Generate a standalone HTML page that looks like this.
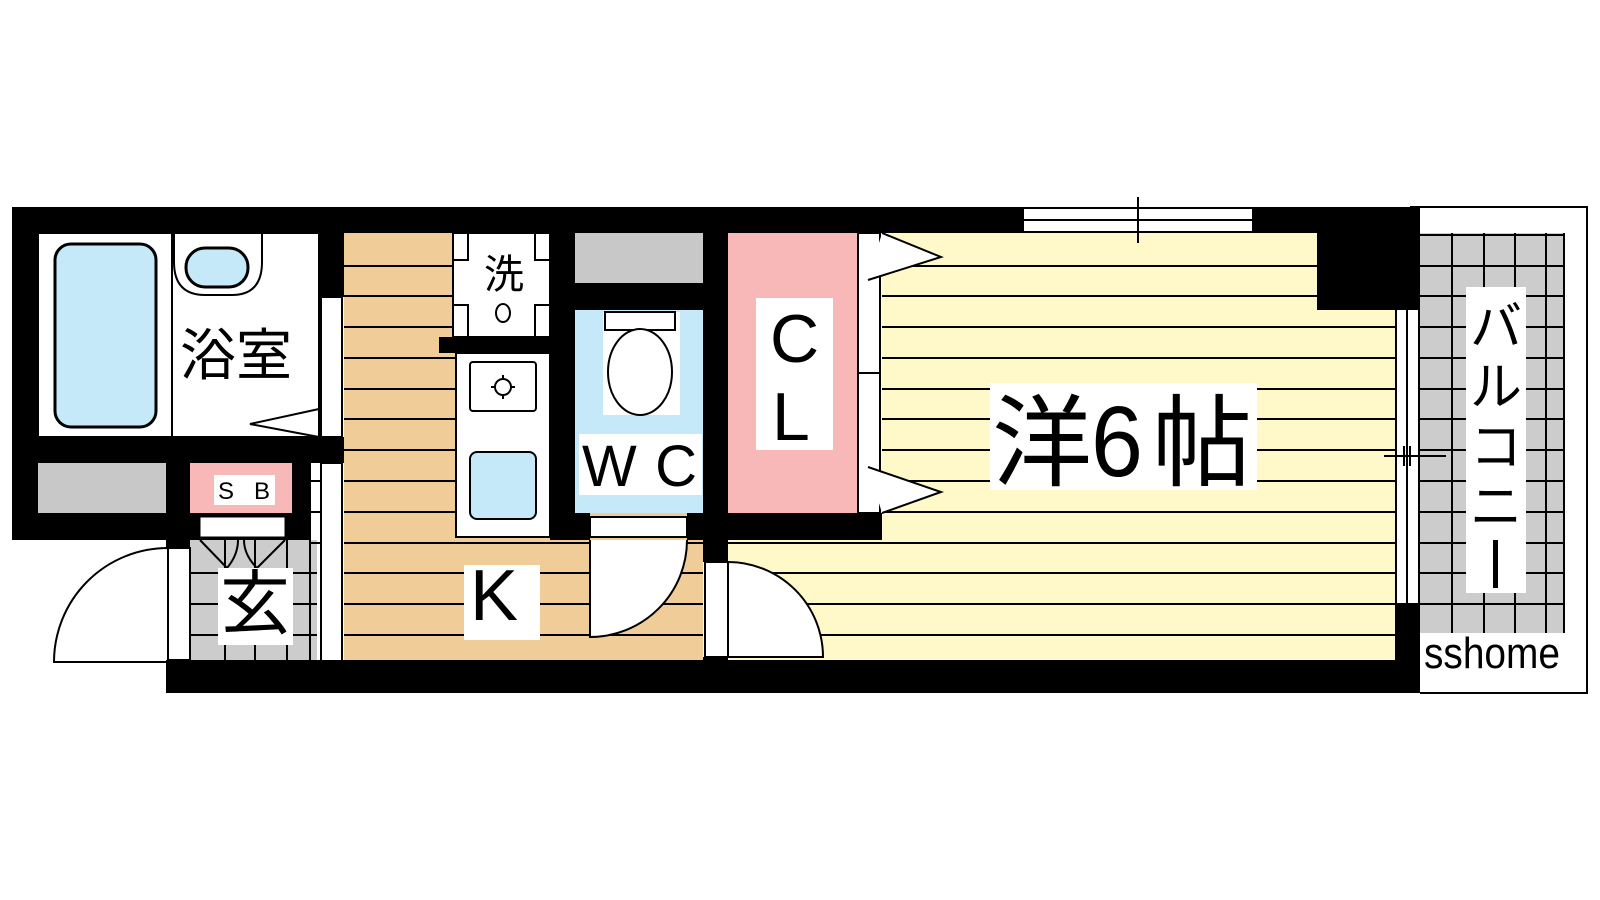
<!DOCTYPE html>
<html><head><meta charset="utf-8"><style>
html,body{margin:0;padding:0;background:#fff;}
svg{display:block}
text{font-family:"Liberation Sans","Noto Sans CJK JP",sans-serif;}
</style></head><body>
<svg width="1600" height="900" viewBox="0 0 1600 900" xmlns="http://www.w3.org/2000/svg">
<rect width="1600" height="900" fill="#fff"/>
<!-- balcony -->
<rect x="1420" y="233" width="144" height="400" fill="#cccccc"/>
<g stroke="#000" stroke-width="2">
<line x1="1452" y1="233" x2="1452" y2="633"/><line x1="1484" y1="233" x2="1484" y2="633"/>
<line x1="1515" y1="233" x2="1515" y2="633"/><line x1="1546" y1="233" x2="1546" y2="633"/>
<line x1="1420" y1="235" x2="1564" y2="235"/><line x1="1564" y1="233" x2="1564" y2="633"/>
</g>
<g stroke="#000" stroke-width="2" id="bgrid">
<line x1="1420" y1="266" x2="1564" y2="266"/><line x1="1420" y1="296" x2="1564" y2="296"/>
<line x1="1420" y1="327" x2="1564" y2="327"/><line x1="1420" y1="358" x2="1564" y2="358"/>
<line x1="1420" y1="389" x2="1564" y2="389"/><line x1="1420" y1="419" x2="1564" y2="419"/>
<line x1="1420" y1="450" x2="1564" y2="450"/><line x1="1420" y1="481" x2="1564" y2="481"/>
<line x1="1420" y1="512" x2="1564" y2="512"/><line x1="1420" y1="543" x2="1564" y2="543"/>
<line x1="1420" y1="573" x2="1564" y2="573"/><line x1="1420" y1="604" x2="1564" y2="604"/>
</g>
<polyline points="1410,207 1587,207 1587,693 1420,693" fill="none" stroke="#000" stroke-width="2"/>
<rect x="1466" y="287" width="60" height="306" fill="#fff"/>
<text font-size="52" text-anchor="middle" x="1496" y="345">バ</text>
<text font-size="52" text-anchor="middle" x="1496" y="405">ル</text>
<text font-size="52" text-anchor="middle" x="1496" y="465">コ</text>
<text font-size="52" text-anchor="middle" x="1496" y="525">ニ</text>
<rect x="1493" y="540" width="5" height="48" fill="#000"/>
<rect x="1420" y="633" width="146" height="39" fill="#fff"/>
<text font-size="44" x="1424" y="668" textLength="136" lengthAdjust="spacingAndGlyphs">sshome</text>

<!-- bath -->
<rect x="38" y="233" width="281" height="204" fill="#fff" stroke="#000" stroke-width="2"/>
<rect x="55" y="244" width="101" height="183" rx="16" fill="#c5e9f9" stroke="#000" stroke-width="3"/>
<line x1="172" y1="233" x2="172" y2="437" stroke="#000" stroke-width="2"/>
<path d="M174 233 L174 262 Q174 295 205 295 L232 295 Q262 295 262 262 L262 233" fill="none" stroke="#000" stroke-width="2"/>
<rect x="186" y="248" width="62" height="39" rx="19" fill="#c5e9f9" stroke="#000" stroke-width="3"/>
<text font-size="56" x="180" y="375">浴室</text>
<polygon points="319,409 250,424 319,437" fill="#fff" stroke="#000" stroke-width="2"/>

<!-- kitchen floor -->
<rect x="344" y="233" width="359" height="434" fill="#f0cd98"/>
<g stroke="#000" stroke-width="2">
<line x1="344" y1="266" x2="453" y2="266"/><line x1="344" y1="296" x2="453" y2="296"/>
<line x1="344" y1="327" x2="453" y2="327"/><line x1="344" y1="358" x2="456" y2="358"/>
<line x1="344" y1="389" x2="456" y2="389"/><line x1="344" y1="419" x2="456" y2="419"/>
<line x1="344" y1="450" x2="456" y2="450"/><line x1="344" y1="481" x2="456" y2="481"/>
<line x1="344" y1="512" x2="456" y2="512"/><line x1="344" y1="543" x2="703" y2="543"/>
<line x1="344" y1="573" x2="703" y2="573"/><line x1="344" y1="604" x2="703" y2="604"/>
<line x1="344" y1="635" x2="703" y2="635"/><line x1="344" y1="665" x2="703" y2="665"/>
</g>
<!-- laundry -->
<rect x="453" y="233" width="97" height="104" fill="#fff" stroke="#000" stroke-width="2"/>
<g stroke="#000" stroke-width="2" fill="none">
<path d="M468 233 V260 H453"/><path d="M535 233 V260 H550"/>
<path d="M468 337 V305 H453"/><path d="M535 337 V305 H550"/>
</g>
<text font-size="40" x="484" y="288">洗</text>
<ellipse cx="503" cy="313" rx="7" ry="9" fill="#fff" stroke="#000" stroke-width="2"/>
<rect x="439" y="337" width="111" height="16" fill="#000"/>
<!-- counter -->
<rect x="456" y="353" width="94" height="184" fill="#fff" stroke="#000" stroke-width="2"/>
<rect x="470" y="362" width="66" height="49" rx="3" fill="#fff" stroke="#000" stroke-width="2"/>
<circle cx="503" cy="387" r="8" fill="none" stroke="#000" stroke-width="2"/>
<g stroke="#000" stroke-width="2"><line x1="503" y1="375" x2="503" y2="379"/><line x1="503" y1="395" x2="503" y2="399"/><line x1="491" y1="387" x2="495" y2="387"/><line x1="511" y1="387" x2="515" y2="387"/></g>
<rect x="470" y="452" width="66" height="67" rx="7" fill="#c5e9f9" stroke="#000" stroke-width="2"/>

<!-- WC -->
<rect x="575" y="233" width="128" height="50" fill="#c8c8c8"/>
<rect x="575" y="310" width="128" height="203" fill="#c5e9f9"/>
<rect x="603" y="312" width="77" height="103" fill="#fff"/>
<rect x="605" y="312" width="70" height="18" fill="#fff" stroke="#000" stroke-width="2"/>
<ellipse cx="640" cy="372" rx="32" ry="43" fill="#fff" stroke="#000" stroke-width="2"/>
<rect x="579" y="434" width="123" height="61" fill="#fff"/>
<text font-size="58" x="582" y="486" textLength="115" lengthAdjust="spacing">WC</text>

<!-- room floor -->
<rect x="882" y="233" width="513" height="434" fill="#fff8c8"/>
<rect x="728" y="540" width="667" height="127" fill="#fff8c8"/>
<g stroke="#000" stroke-width="2">
<line x1="882" y1="266" x2="1317" y2="266"/><line x1="882" y1="296" x2="1317" y2="296"/>
<line x1="882" y1="327" x2="1395" y2="327"/><line x1="882" y1="358" x2="1395" y2="358"/>
<line x1="882" y1="389" x2="1395" y2="389"/><line x1="882" y1="419" x2="1395" y2="419"/>
<line x1="882" y1="450" x2="1395" y2="450"/><line x1="882" y1="481" x2="1395" y2="481"/>
<line x1="882" y1="512" x2="1395" y2="512"/><line x1="728" y1="543" x2="1395" y2="543"/>
<line x1="728" y1="573" x2="1395" y2="573"/><line x1="728" y1="604" x2="1395" y2="604"/>
<line x1="728" y1="635" x2="1395" y2="635"/><line x1="728" y1="665" x2="1395" y2="665"/>
</g>
<rect x="990" y="383" width="267" height="107" fill="#fff"/>
<text font-size="100" x="992" y="478">洋</text>
<text font-size="100" x="1091" y="476" textLength="52" lengthAdjust="spacingAndGlyphs">6</text>
<text font-size="100" x="1152" y="478">帖</text>
<!-- CL -->
<rect x="728" y="233" width="130" height="280" fill="#f8b8b8"/>
<rect x="756" y="298" width="77" height="152" fill="#fff"/>
<text font-size="68" x="770" y="362">C</text>
<text font-size="68" x="772" y="440">L</text>
<rect x="858" y="233" width="22" height="280" fill="#fff" stroke="#000" stroke-width="2"/>
<line x1="858" y1="373" x2="880" y2="373" stroke="#000" stroke-width="2"/>
<polyline points="882,233 941,257 868,280" fill="#fff" stroke="#000" stroke-width="2"/>
<polyline points="868,467 941,492 882,513" fill="#fff" stroke="#000" stroke-width="2"/>

<!-- entrance -->
<rect x="190" y="540" width="127" height="127" fill="#cccccc"/>
<g stroke="#000" stroke-width="2">
<line x1="225" y1="540" x2="225" y2="667"/><line x1="255" y1="540" x2="255" y2="667"/><line x1="287" y1="540" x2="287" y2="667"/>
<line x1="190" y1="573" x2="317" y2="573"/><line x1="190" y1="604" x2="317" y2="604"/><line x1="190" y1="635" x2="317" y2="635"/>
<line x1="310" y1="463" x2="310" y2="667"/>
<line x1="310" y1="481" x2="320" y2="481"/><line x1="310" y1="512" x2="320" y2="512"/><line x1="310" y1="543" x2="320" y2="543"/>
</g>
<g stroke="#000" stroke-width="2" fill="none">
<line x1="200" y1="540" x2="227" y2="568"/><line x1="285" y1="540" x2="257" y2="568"/>
<path d="M227 568 Q238 555 238 540"/><path d="M257 568 Q244 555 244 540"/>
</g>
<rect x="218" y="568" width="75" height="77" fill="#fff"/>
<text font-size="70" x="220" y="628">玄</text>
<rect x="464" y="565" width="76" height="75" fill="#fff"/>
<text font-size="72" x="470" y="620">K</text>

<!-- entrance door -->
<path d="M54 662 A114 114 0 0 1 168 548 L168 662 Z" fill="#fff" stroke="#000" stroke-width="2"/>
<rect x="168" y="548" width="22" height="112" fill="#fff" stroke="#000" stroke-width="2"/>

<!-- sliding frame kitchen/entrance -->
<rect x="321" y="297" width="21" height="140" fill="#fff" stroke="#000" stroke-width="2"/>
<rect x="321" y="463" width="21" height="204" fill="#fff" stroke="#000" stroke-width="2"/>

<!-- WC door -->
<path d="M590 540 L590 637 A97 97 0 0 0 687 540" fill="#fff" stroke="#000" stroke-width="2"/>
<rect x="590" y="517" width="97" height="20" fill="#fff" stroke="#000" stroke-width="2"/>
<!-- room door -->
<path d="M728 562 A95 95 0 0 1 823 657 L728 657 Z" fill="#fff" stroke="#000" stroke-width="2"/>
<rect x="705" y="562" width="23" height="95" fill="#fff" stroke="#000" stroke-width="2"/>

<!-- walls -->
<g fill="#000">
<rect x="12" y="207" width="1012" height="26"/>
<rect x="1252" y="207" width="168" height="26"/>
<rect x="1317" y="207" width="103" height="103"/>
<rect x="12" y="207" width="26" height="333"/>
<rect x="319" y="233" width="25" height="64"/>
<rect x="12" y="437" width="332" height="26"/>
<rect x="166" y="463" width="24" height="85"/>
<rect x="12" y="513" width="178" height="27"/>
<rect x="190" y="513" width="120" height="27"/>
<rect x="292" y="463" width="18" height="77"/>
<rect x="550" y="233" width="25" height="307"/>
<rect x="575" y="283" width="128" height="27"/>
<rect x="550" y="513" width="40" height="27"/>
<rect x="687" y="513" width="16" height="27"/>
<rect x="703" y="233" width="25" height="329"/>
<rect x="703" y="513" width="179" height="27"/>
<rect x="703" y="657" width="25" height="10"/>
<rect x="1395" y="603" width="25" height="90"/>
<rect x="166" y="660" width="1254" height="33"/>
</g>
<rect x="38" y="463" width="128" height="50" fill="#c8c8c8"/>
<rect x="190" y="463" width="102" height="50" fill="#f8b8b8"/>
<rect x="214" y="475" width="61" height="30" fill="#fff"/>
<text font-size="24" x="218" y="499" textLength="52" lengthAdjust="spacing">SB</text>
<rect x="200" y="517" width="85" height="20" fill="#fff" stroke="#000" stroke-width="1"/>

<!-- windows -->
<rect x="1024" y="207" width="228" height="26" fill="#fff"/>
<g stroke="#000" stroke-width="2">
<line x1="1024" y1="208" x2="1252" y2="208"/><line x1="1024" y1="220" x2="1252" y2="220"/><line x1="1024" y1="232" x2="1252" y2="232"/>
<line x1="1138" y1="197" x2="1138" y2="243"/>
</g>
<rect x="1395" y="310" width="25" height="293" fill="#fff"/>
<g stroke="#000" stroke-width="2">
<line x1="1396" y1="310" x2="1396" y2="603"/><line x1="1407" y1="310" x2="1407" y2="603"/><line x1="1419" y1="310" x2="1419" y2="603"/>
<line x1="1384" y1="456" x2="1446" y2="456"/><line x1="1404" y1="446" x2="1404" y2="466"/><line x1="1410" y1="446" x2="1410" y2="466"/>
</g>
</svg>
</body></html>
